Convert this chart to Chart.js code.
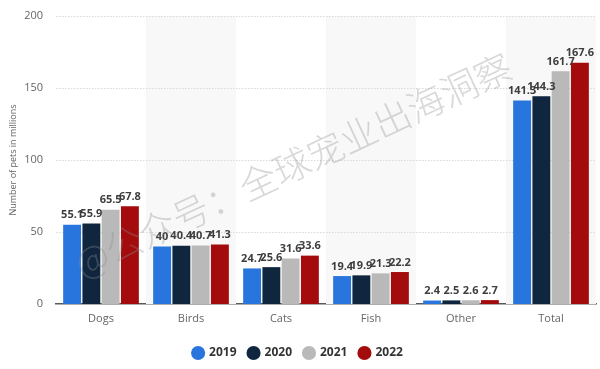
<!DOCTYPE html>
<html>
<head>
<meta charset="utf-8">
<script src="https://cdn.jsdelivr.net/npm/chart.js@4"></script>
<style>
html,body{margin:0;padding:0;background:#fff;}
#wrap{width:600px;height:369px;position:relative;}
</style>
</head>
<body>
<div id="wrap"><canvas id="c" width="600" height="369"></canvas></div>
<script>
const categories = ["Dogs", "Birds", "Cats", "Fish", "Other", "Total"];
const years = ["2019", "2020", "2021", "2022"];
const v2019 = [55.1, 40, 24.7, 19.4, 2.4, 141.3];
const v2020 = [55.9, 40.4, 25.6, 19.9, 2.5, 144.3];
const v2021 = [65.5, 40.7, 31.6, 21.3, 2.6, 161.7];
const v2022 = [67.8, 41.3, 33.6, 22.2, 2.7, 167.6];
const yTicks = [0, 50, 100, 150, 200];
const yTitle = "Number of pets in millions";
const watermark = "@公众号：全球宠业出海洞察";

const colors = ["#2876dd", "#10263f", "#b9b9b9", "#a30b0d"];
const series = [v2019, v2020, v2021, v2022];

const bandPlugin = {
  id: 'bands',
  beforeDatasetsDraw(chart) {
    const {ctx, chartArea, scales:{x}} = chart;
    const w = (chartArea.right - chartArea.left) / categories.length;
    ctx.save();
    ctx.fillStyle = '#f8f8f8';
    categories.forEach((c, i) => {
      if (i % 2 === 1) {
        const cx = x.getPixelForValue(i);
        ctx.fillRect(cx - w/2, chartArea.top, w, chartArea.bottom - chartArea.top);
      }
    });
    ctx.restore();
  }
};
const gridPlugin = {
  id: 'gridOver',
  beforeDatasetsDraw(chart) {
    const {ctx, chartArea, scales:{y}} = chart;
    ctx.save();
    ctx.strokeStyle = '#d9d9d9';
    ctx.lineWidth = 1;
    ctx.setLineDash([1.5, 1.5]);
    yTicks.forEach(t => {
      if (t === 0) return;
      const py = Math.round(y.getPixelForValue(t)) + 0.5;
      ctx.beginPath();
      ctx.moveTo(chartArea.left, py);
      ctx.lineTo(chartArea.right, py);
      ctx.stroke();
    });
    ctx.restore();
  }
};
const labelPlugin = {
  id: 'vlabels',
  afterDatasetsDraw(chart) {
    const {ctx} = chart;
    ctx.save();
    ctx.font = 'bold 11px "Open Sans", sans-serif';
    ctx.fillStyle = '#3d3d3d';
    ctx.textAlign = 'center';
    ctx.textBaseline = 'bottom';
    chart.data.datasets.forEach((ds, di) => {
      const meta = chart.getDatasetMeta(di);
      meta.data.forEach((el, i) => {
        ctx.fillText(String(ds.data[i]), el.x, el.y - 4);
      });
    });
    ctx.restore();
  }
};
const wmPlugin = {
  id: 'wm',
  afterDraw(chart) {
    const {ctx} = chart;
    ctx.save();
    ctx.translate(293, 165);
    ctx.rotate(-25 * Math.PI / 180);
    ctx.font = '300 37px "Noto Sans CJK SC", sans-serif';
    ctx.fillStyle = 'rgba(140,140,140,0.34)';
    ctx.textAlign = 'center';
    ctx.textBaseline = 'middle';
    ctx.fillText(watermark, 0, 0);
    ctx.restore();
  }
};

new Chart(document.getElementById('c'), {
  type: 'bar',
  data: {
    labels: categories,
    datasets: years.map((y, i) => ({
      label: y,
      data: series[i],
      backgroundColor: colors[i],
      borderWidth: 0,
      categoryPercentage: 0.856,
      barPercentage: 0.93
    }))
  },
  options: {
    responsive: false,
    animation: false,
    layout: { padding: { top: 16, right: 4, left: 0, bottom: 0 } },
    plugins: {
      legend: {
        position: 'bottom',
        labels: {
          usePointStyle: true,
          pointStyle: 'circle',
          boxWidth: 10,
          boxHeight: 10,
          padding: 12,
          color: '#333',
          font: { family: '"Open Sans", sans-serif', size: 12, weight: 'bold' }
        }
      },
      tooltip: { enabled: false }
    },
    scales: {
      x: {
        grid: { display: false },
        border: { display: true, color: '#5a5a5a', width: 1.5 },
        ticks: { color: '#666', font: { family: '"Open Sans", sans-serif', size: 11 }, padding: 0 },
        afterFit(s) { s.height = 31; }
      },
      y: {
        min: 0, max: 200,
        afterBuildTicks(s) { s.ticks = yTicks.map(v => ({value: v})); },
        grid: { display: false, drawTicks: false },
        border: { display: false },
        ticks: { color: '#666', font: { family: '"Open Sans", sans-serif', size: 11 }, padding: 13 },
        title: { display: true, text: yTitle, color: '#666', font: { family: '"Open Sans", sans-serif', size: 9 }, padding: { top: 8, bottom: 0 } },
        afterFit(s) { s.width = 56; s.paddingTop = 0; s.paddingBottom = 0; }
      }
    }
  },
  plugins: [bandPlugin, gridPlugin, labelPlugin, wmPlugin]
});
</script>
</body>
</html>
